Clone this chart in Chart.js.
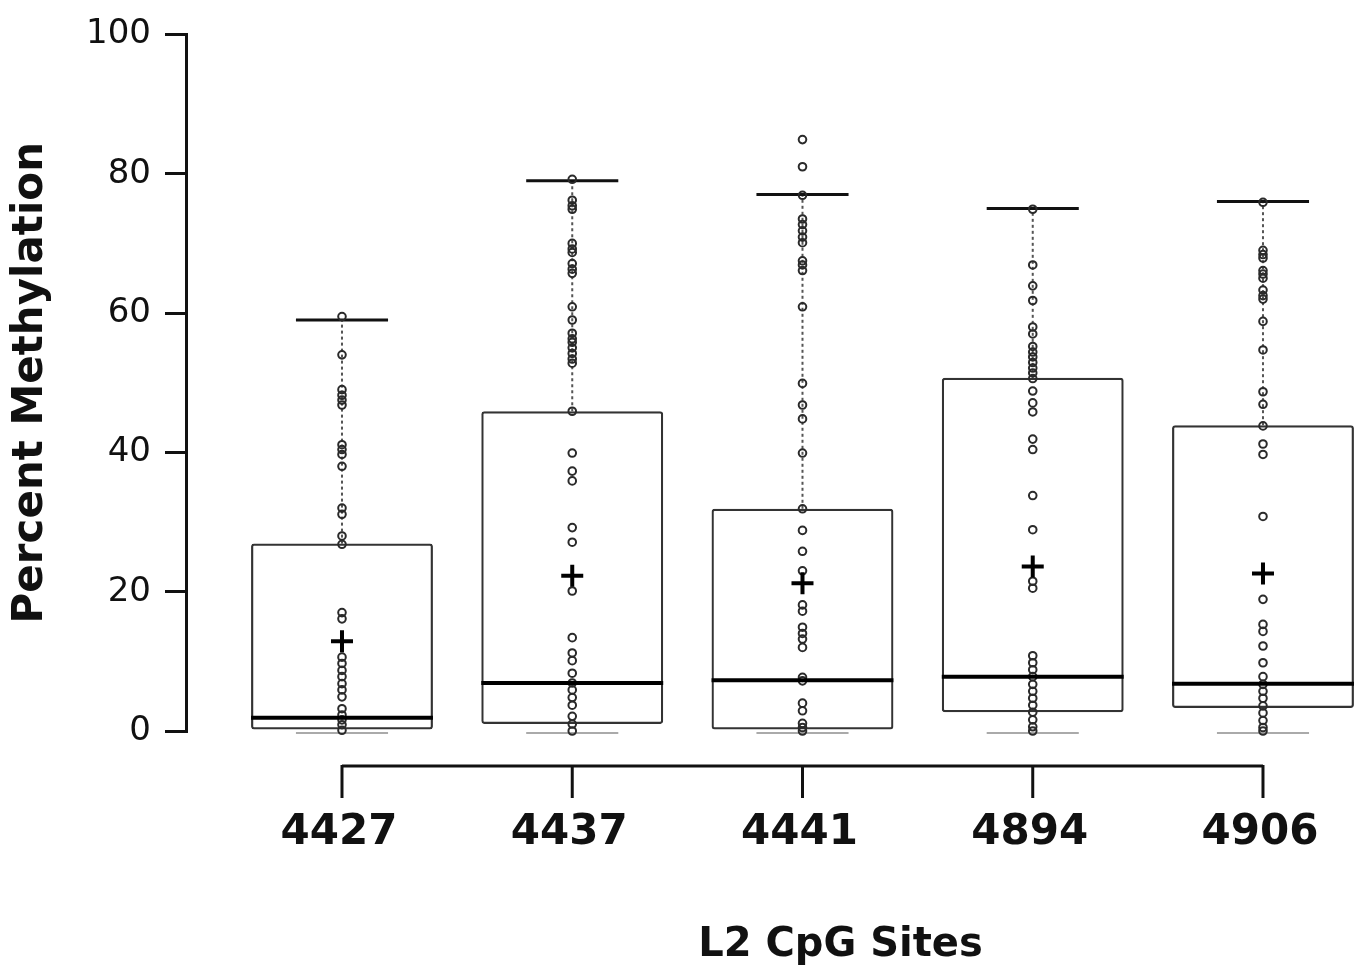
<!DOCTYPE html>
<html>
<head>
<meta charset="utf-8">
<title>L2 CpG Sites</title>
<script src="https://cdn.jsdelivr.net/npm/chart.js@4.4.0/dist/chart.umd.min.js"></script>
<style>
  html, body { margin: 0; padding: 0; background: #fff; }
  #wrap { width: 1358px; height: 971px; position: relative; }
</style>
</head>
<body>
<div id="wrap"><canvas id="boxChart"></canvas></div>
<script>
// Global styles
Chart.defaults.font.family = "'DejaVu Sans', sans-serif";
Chart.defaults.color = '#111';

// Data (percent methylation per L2 CpG site)
const sites = ['4427', '4437', '4441', '4894', '4906'];
const q1 = [0, 1.0, 0, 2.7, 3.3];
const medians = [1.9, 6.9, 7.3, 7.8, 6.8];
const q3 = [26.9, 45.9, 31.9, 50.7, 43.9];
const whiskerHi = [59, 79, 77, 75, 76];
const whiskerLo = [0, 0, 0, 0, 0];
const means = [12.9, 22.3, 21.2, 23.6, 22.6];
const yTicks = [0, 20, 40, 60, 80, 100];

const s4427 = [59.5, 54, 49, 48.2, 47.5, 46.8, 41.1, 40.4, 39.7, 38, 32, 31.1, 28, 26.8, 17, 16.1,
  10.6, 9.7, 8.7, 7.8, 6.8, 5.9, 4.9, 3.2, 2.3, 1.6, 0.9, 0.1];
const s4437 = [79.2, 76.2, 75.4, 74.9, 70.0, 69.2, 68.7, 67.1, 66.3, 65.7, 60.9, 59.0, 57.1, 56.3, 55.8,
  55.0, 54.2, 53.4, 52.8, 45.9, 39.9, 37.3, 35.9, 29.2, 27.1, 20.1, 13.4, 11.2, 10.1, 8.3, 6.9, 5.9,
  4.8, 3.7, 2.1, 1.0, 0];
const s4441 = [84.9, 81, 76.9, 73.5, 72.7, 71.8, 70.9, 70.1, 67.5, 66.9, 66.1, 60.9, 49.9, 46.8, 44.8,
  39.9, 31.9, 28.8, 25.8, 23.0, 18.1, 17.2, 14.9, 14.0, 13.2, 12.0, 7.7, 7.2, 4.0, 2.9, 1.1, 0.5, 0];
const s4894 = [74.9, 66.9, 63.9, 61.8, 58.0, 57.0, 55.2, 54.4, 53.7, 52.9, 52.1, 51.4, 50.6, 48.8, 47.1,
  45.8, 41.9, 40.4, 33.8, 28.9, 21.5, 20.5, 10.8, 9.8, 8.8, 7.8, 6.7, 5.7, 4.7, 3.7, 2.7, 1.6, 0.6, 0];
const s4906 = [75.9, 69.0, 68.4, 67.9, 66.1, 65.6, 65.0, 63.3, 62.5, 62.0, 58.8, 54.7, 48.7, 46.9, 43.8,
  41.2, 39.7, 30.8, 18.9, 15.3, 14.3, 12.2, 9.8, 7.8, 6.7, 5.7, 4.7, 3.6, 2.6, 1.5, 0.5, 0];

const samples = [s4427, s4437, s4441, s4894, s4906];

// Build datasets from the arrays
const pointData = [];
samples.forEach((arr, i) => arr.forEach(v => pointData.push({ x: i + 1, y: v })));
const boxData = sites.map((s, i) => ({ x: i + 1, y: [q1[i], q3[i]] }));
const meanData = means.map((m, i) => ({ x: i + 1, y: m }));

const BOX_HALF = 0.395;
const CAP_HALF = 0.2;

function seg(ctx, x1, y1, x2, y2) {
  ctx.beginPath();
  ctx.moveTo(x1, y1);
  ctx.lineTo(x2, y2);
  ctx.stroke();
}

// Whiskers, medians and the offset x axis (R style)
const boxExtras = {
  id: 'boxExtras',
  beforeDatasetsDraw(chart) {
    const { ctx, scales: { x, y } } = chart;
    ctx.save();
    sites.forEach((s, i) => {
      const cx = x.getPixelForValue(i + 1);
      const l = x.getPixelForValue(i + 1 - CAP_HALF);
      const r = x.getPixelForValue(i + 1 + CAP_HALF);
      // dotted upper whisker
      ctx.strokeStyle = '#555';
      ctx.lineWidth = 2;
      ctx.setLineDash([3, 3]);
      seg(ctx, cx, y.getPixelForValue(q3[i]), cx, y.getPixelForValue(whiskerHi[i]));
      ctx.setLineDash([]);
      // upper cap
      ctx.strokeStyle = '#111';
      ctx.lineWidth = 3;
      seg(ctx, l, y.getPixelForValue(whiskerHi[i]), r, y.getPixelForValue(whiskerHi[i]));
      // lower cap (light grey)
      ctx.strokeStyle = '#aaa';
      ctx.lineWidth = 2;
      const yl = y.getPixelForValue(whiskerLo[i]) + 2;
      seg(ctx, l, yl, r, yl);
    });
    ctx.restore();
  },
  afterDatasetsDraw(chart) {
    const { ctx, scales: { x, y } } = chart;
    ctx.save();
    ctx.strokeStyle = '#000';
    ctx.lineWidth = 4;
    medians.forEach((m, i) => {
      const ym = y.getPixelForValue(m);
      seg(ctx, x.getPixelForValue(i + 1 - BOX_HALF), ym, x.getPixelForValue(i + 1 + BOX_HALF), ym);
    });
    ctx.restore();
  },
  afterDraw(chart) {
    const { ctx, chartArea, scales: { x } } = chart;
    const axisY = chartArea.bottom + 35;
    ctx.save();
    ctx.strokeStyle = '#111';
    ctx.lineWidth = 3;
    seg(ctx, x.getPixelForValue(1), axisY, x.getPixelForValue(sites.length), axisY);
    ctx.fillStyle = '#111';
    ctx.font = "bold 42px 'DejaVu Sans', sans-serif";
    ctx.textAlign = 'center';
    ctx.textBaseline = 'alphabetic';
    sites.forEach((s, i) => {
      const px = x.getPixelForValue(i + 1);
      seg(ctx, px, axisY - 1, px, axisY + 32);
      ctx.fillText(s, px - 3, axisY + 78);
    });
    // axis title
    ctx.font = "bold 40px 'DejaVu Sans', sans-serif";
    ctx.fillText('L2 CpG Sites', x.getPixelForValue(3.165), axisY + 190);
    ctx.restore();
  }
};

const ctxBox = document.getElementById('boxChart').getContext('2d');

new Chart(ctxBox, {
  type: 'bar',
  data: {
    datasets: [
      {
        type: 'scatter',
        label: 'Mean',
        data: meanData,
        pointStyle: 'cross',
        pointRadius: 11,
        borderColor: '#000',
        borderWidth: 4,
        clip: false,
        order: 0
      },
      {
        type: 'scatter',
        label: 'Samples',
        data: pointData,
        pointStyle: 'circle',
        pointRadius: 3.8,
        backgroundColor: 'rgba(0,0,0,0)',
        borderColor: '#2a2a2a',
        borderWidth: 2,
        clip: false,
        order: 1
      },
      {
        type: 'bar',
        label: 'IQR',
        data: boxData,
        backgroundColor: 'rgba(0,0,0,0)',
        borderColor: '#333',
        borderWidth: 2.2,
        borderSkipped: false,
        borderRadius: 3,
        barPercentage: 1,
        categoryPercentage: BOX_HALF * 2,
        clip: false,
        order: 2
      }
    ]
  },
  plugins: [boxExtras],
  options: {
    responsive: true,
    maintainAspectRatio: false,
    animation: false,
    layout: { padding: { top: 31, bottom: 240, right: 0, left: 0 } },
    plugins: {
      legend: { display: false },
      tooltip: { enabled: false }
    },
    scales: {
      x: {
        type: 'linear',
        display: false,
        offset: false,
        min: 0.3225,
        max: 5.3475,
        afterBuildTicks(scale) { scale.ticks = sites.map((s, i) => ({ value: i + 1 })); }
      },
      y: {
        min: 0,
        max: 100,
        afterFit(scale) { scale.width = 186; },
        afterBuildTicks(scale) { scale.ticks = yTicks.map(v => ({ value: v })); },
        border: { display: true, color: '#111', width: 3 },
        grid: { drawOnChartArea: false, drawTicks: true, tickLength: 21, color: '#111', lineWidth: 3 },
        ticks: { padding: 14, color: '#111', font: { size: 34 } },
        title: {
          display: true,
          text: 'Percent Methylation',
          color: '#111',
          font: { size: 42, weight: 'bold' },
          padding: { top: 6, bottom: 0 }
        }
      }
    }
  }
});
</script>
</body>
</html>
